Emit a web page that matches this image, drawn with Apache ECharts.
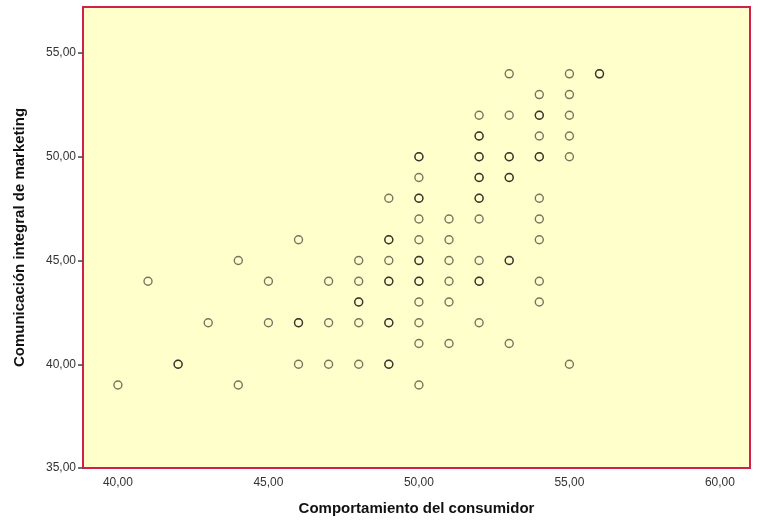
<!DOCTYPE html>
<html>
<head>
<meta charset="utf-8">
<script src="https://cdn.jsdelivr.net/npm/echarts@6/dist/echarts.min.js"></script>
<style>
  html, body { margin: 0; padding: 0; background: #fff; }
  #chart { width: 760px; height: 520px; }
</style>
</head>
<body>
<div id="chart"></div>
<script>
// puntos (repetidos donde el circulo se ve mas oscuro)
var xValues = [
    40, 41, 42, 42, 43, 44, 44, 45, 45,
    46, 46, 46, 46, 47, 47, 47,
    48, 48, 48, 48, 48, 48,
    49, 49, 49, 49, 49, 49, 49, 49, 49, 49,
    50, 50, 50, 50, 50, 50, 50, 50, 50, 50, 50, 50, 50, 50, 50,
    51, 51, 51, 51, 51, 51,
    52, 52, 52, 52, 52, 52, 52, 52, 52, 52, 52, 52, 52, 52,
    53, 53, 53, 53, 53, 53, 53, 53, 53,
    54, 54, 54, 54, 54, 54, 54, 54, 54, 54, 54,
    55, 55, 55, 55, 55, 55,
    56, 56
];
var yValues = [
    39, 44, 40, 40, 42, 45, 39, 44, 42,
    46, 42, 42, 40, 44, 42, 40,
    45, 44, 43, 43, 42, 40,
    48, 46, 46, 45, 44, 44, 42, 42, 40, 40,
    50, 50, 49, 48, 48, 47, 46, 45, 45, 44, 44, 43, 42, 41, 39,
    47, 46, 45, 44, 43, 41,
    52, 51, 51, 50, 50, 49, 49, 48, 48, 47, 45, 44, 44, 42,
    54, 52, 50, 50, 49, 49, 45, 45, 41,
    53, 52, 52, 51, 50, 50, 48, 47, 46, 44, 43,
    54, 53, 52, 51, 50, 40,
    54, 54
];
var xTicks = [40, 45, 50, 55, 60];
var yTicks = [35, 40, 45, 50, 55];

var points = [];
for (var i = 0; i < xValues.length; i++) {
    points.push([xValues[i], yValues[i]]);
}

function fmt(v) {
    return v.toFixed(2).replace('.', ',');
}

var myChart = echarts.init(document.getElementById('chart'));
var option = {
    animation: false,
    backgroundColor: '#ffffff',
    textStyle: { fontFamily: 'Liberation Sans, Arial, sans-serif' },
    grid: {
        left: 83,
        right: 10,
        top: 7,
        bottom: 52,
        outerBoundsMode: 'none',
        containLabel: false,
        show: true,
        backgroundColor: '#ffffcc',
        borderColor: '#d21f4b',
        borderWidth: 2
    },
    xAxis: {
        type: 'value',
        min: 38.84,
        max: 61.0,
        name: 'Comportamiento del consumidor',
        nameLocation: 'middle',
        nameGap: 33,
        nameTextStyle: { fontSize: 15, fontWeight: 'bold', color: '#111' },
        axisLine: { show: false },
        splitLine: { show: false },
        axisTick: { show: false, customValues: xTicks },
        axisLabel: {
            customValues: xTicks,
            formatter: fmt,
            fontSize: 12,
            color: '#333',
            margin: 9
        }
    },
    yAxis: {
        type: 'value',
        min: 35,
        max: 57.22,
        name: 'Comunicación integral de marketing',
        nameLocation: 'middle',
        nameGap: 56,
        nameTextStyle: { fontSize: 15, fontWeight: 'bold', color: '#111' },
        axisLine: { show: false },
        splitLine: { show: false },
        axisTick: {
            show: true,
            customValues: yTicks,
            length: 5,
            lineStyle: { color: '#444', width: 1.5 }
        },
        axisLabel: {
            customValues: yTicks,
            formatter: fmt,
            fontSize: 12,
            color: '#333',
            margin: 7
        }
    },
    series: [{
        type: 'scatter',
        data: points,
        symbol: 'circle',
        symbolSize: 8,
        itemStyle: {
            color: 'rgba(0,0,0,0)',
            borderColor: 'rgba(0,0,0,0.68)',
            borderWidth: 1.4
        }
    }]
};
myChart.setOption(option);
</script>
</body>
</html>
